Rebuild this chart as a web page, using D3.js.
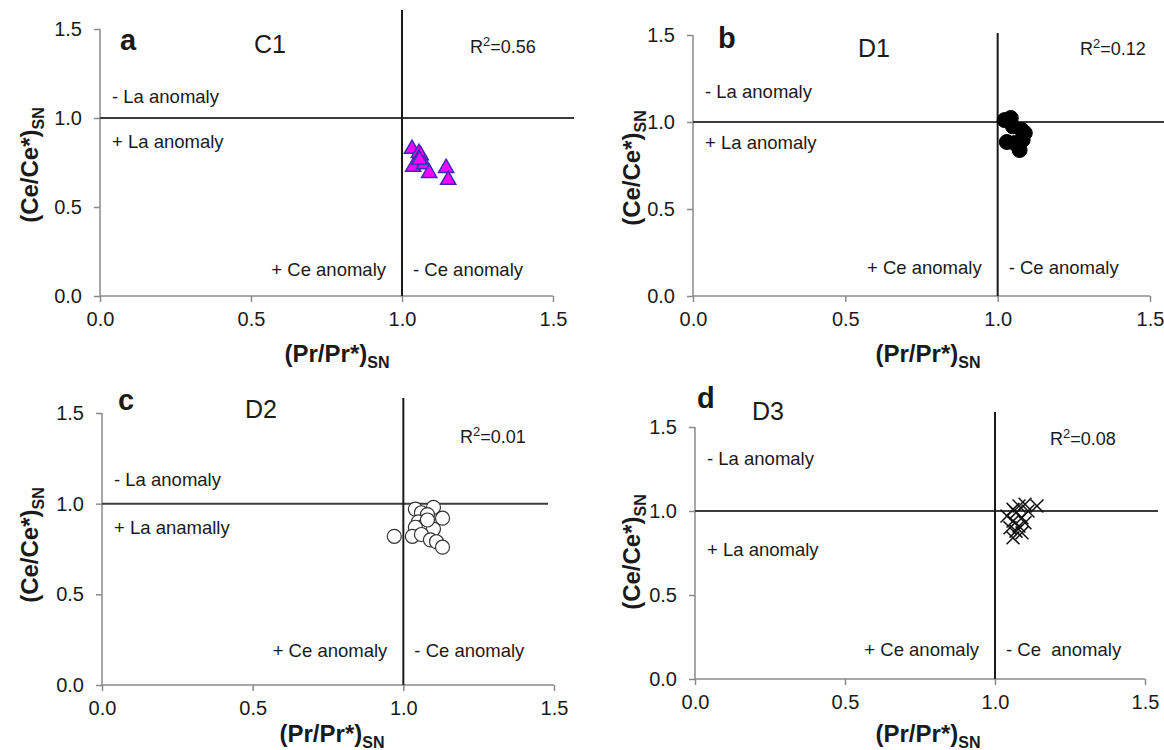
<!DOCTYPE html>
<html>
<head>
<meta charset="utf-8">
<script src="https://cdn.jsdelivr.net/npm/d3@7"></script>
<style>
  body { margin: 0; background: #fff; }
  text { font-family: "Liberation Sans", Arial, sans-serif; fill: #1a1a1a; }
</style>
</head>
<body>
<svg id="chart" width="1164" height="750"></svg>
<script>
// tick values shared by every panel
const ticks = [0, 0.5, 1.0, 1.5];
const tickLabels = ["0.0", "0.5", "1.0", "1.5"];

// C1 (triangles)
const c1Pr = [1.033, 1.056, 1.062, 1.037, 1.073, 1.090, 1.146, 1.153, 1.058];
const c1Ce = [0.826, 0.803, 0.790, 0.725, 0.740, 0.691, 0.719, 0.652, 0.765];

// D1 (black circles)
const d1Pr = [1.023, 1.043, 1.079, 1.089, 1.030, 1.056, 1.072, 1.082, 1.050];
const d1Ce = [1.011, 1.023, 0.954, 0.937, 0.885, 0.879, 0.839, 0.897, 0.975];

// D2 (open circles)
const d2Pr = [1.04, 1.06, 1.10, 1.08, 1.13, 1.05, 1.07, 1.04, 1.10, 1.03, 1.06, 1.09, 1.11, 1.13, 0.97, 1.08];
const d2Ce = [0.97, 0.95, 0.98, 0.94, 0.92, 0.90, 0.88, 0.87, 0.86, 0.82, 0.83, 0.80, 0.79, 0.76, 0.82, 0.91];

// D3 (crosses)
const d3Pr = [1.04, 1.06, 1.08, 1.10, 1.14, 1.07, 1.09, 1.06, 1.08, 1.10, 1.07, 1.06, 1.09, 1.11, 1.05];
const d3Ce = [0.97, 1.01, 1.03, 1.04, 1.03, 0.99, 0.96, 0.94, 0.91, 0.93, 0.88, 0.84, 0.87, 1.00, 0.90];

const panelLetters = ["a", "b", "c", "d"];
const groupNames = ["C1", "D1", "D2", "D3"];
const r2Values = ["0.56", "0.12", "0.01", "0.08"];
const laMinus = ["- La anomaly", "- La anomaly", "- La anomaly", "- La anomaly"];
const laPlus = ["+ La anomaly", "+ La anomaly", "+ La anamally", "+ La anomaly"];
const cePlus = ["+ Ce anomaly", "+ Ce anomaly", "+ Ce anomaly", "+ Ce anomaly"];
const ceMinus = ["- Ce anomaly", "- Ce anomaly", "- Ce anomaly", "- Ce  anomaly"];

const series = [
  { pr: c1Pr, ce: c1Ce, kind: "triangle" },
  { pr: d1Pr, ce: d1Ce, kind: "dot" },
  { pr: d2Pr, ce: d2Ce, kind: "open" },
  { pr: d3Pr, ce: d3Ce, kind: "cross" }
];

// where each panel sits on the page
const layout = [
  { x0: 100, x15: 553, y0: 296, y15: 29, hEnd: 574, vTop: 10,
    letter: [120, 50], group: [254, 53], r2: [470, 53], laM: 103, laP: 148, ce: 276,
    yTitle: [30, 165], xTitle: [337, 362] },
  { x0: 693, x15: 1150, y0: 296, y15: 35, hEnd: 1164, vTop: 33,
    letter: [718, 48], group: [858, 57], r2: [1080, 55], laM: 98, laP: 149, ce: 274,
    yTitle: [632, 168], xTitle: [928, 362] },
  { x0: 102, x15: 554, y0: 685, y15: 413, hEnd: 548, vTop: 398,
    letter: [118, 410], group: [245, 418], r2: [460, 443], laM: 486, laP: 534, ce: 657,
    yTitle: [30, 545], xTitle: [332, 742] },
  { x0: 695, x15: 1145, y0: 679, y15: 427, hEnd: 1158, vTop: 412,
    letter: [697, 408], group: [752, 420], r2: [1050, 445], laM: 465, laP: 556, ce: 656,
    yTitle: [632, 552], xTitle: [928, 742] }
];

const svg = d3.select("#chart");
const axisGrey = "#8a8a8a";

layout.forEach(function(p, i) {
  const x = d3.scaleLinear().domain([0, 1.5]).range([p.x0, p.x15]);
  const y = d3.scaleLinear().domain([0, 1.5]).range([p.y0, p.y15]);
  const g = svg.append("g");

  // axes
  const xAxis = d3.axisBottom(x).tickValues(ticks).tickFormat((d, k) => tickLabels[k]).tickSize(6).tickPadding(10);
  const yAxis = d3.axisLeft(y).tickValues(ticks).tickFormat((d, k) => tickLabels[k]).tickSize(6).tickPadding(12);
  const gx = g.append("g").attr("transform", "translate(0," + p.y0 + ")").call(xAxis);
  const gy = g.append("g").attr("transform", "translate(" + p.x0 + ",0)").call(yAxis);
  [gx, gy].forEach(function(a) {
    a.select(".domain").attr("stroke", axisGrey).attr("stroke-width", 1.5);
    a.selectAll(".tick line").attr("stroke", axisGrey).attr("stroke-width", 1.5);
    a.selectAll(".tick text").attr("font-size", 20).attr("fill", "#1a1a1a")
      .attr("font-family", '"Liberation Sans", Arial, sans-serif');
  });
  gx.select(".domain").attr("d", "M" + p.x0 + ",0H" + p.x15);
  gy.select(".domain").attr("d", "M0," + p.y0 + "V" + p.y15);

  // reference lines at 1.0
  g.append("line")
    .attr("x1", p.x0).attr("x2", p.hEnd)
    .attr("y1", y(1)).attr("y2", y(1))
    .attr("stroke", "#3c3c3c").attr("stroke-width", 2);
  g.append("line")
    .attr("x1", x(1)).attr("x2", x(1))
    .attr("y1", p.vTop).attr("y2", p.y0)
    .attr("stroke", "#1a1a1a").attr("stroke-width", 2);

  // texts
  g.append("text").attr("x", p.letter[0]).attr("y", p.letter[1])
    .attr("font-size", 29).attr("font-weight", "bold").text(panelLetters[i]);
  g.append("text").attr("x", p.group[0]).attr("y", p.group[1])
    .attr("font-size", 25).text(groupNames[i]);
  const r2 = g.append("text").attr("x", p.r2[0]).attr("y", p.r2[1]).attr("font-size", 18);
  r2.append("tspan").text("R");
  r2.append("tspan").attr("font-size", 13).attr("dy", -7).text("2");
  r2.append("tspan").attr("dy", 7).text("=" + r2Values[i]);

  g.append("text").attr("x", p.x0 + 12).attr("y", p.laM).attr("font-size", 18.5).text(laMinus[i]);
  g.append("text").attr("x", p.x0 + 12).attr("y", p.laP).attr("font-size", 18.5).text(laPlus[i]);
  g.append("text").attr("x", x(1) - 16).attr("y", p.ce).attr("font-size", 18.5)
    .attr("text-anchor", "end").text(cePlus[i]);
  g.append("text").attr("x", x(1) + 11).attr("y", p.ce).attr("font-size", 18.5)
    .style("white-space", "pre").text(ceMinus[i]);

  // axis titles
  const xt = g.append("text").attr("x", p.xTitle[0]).attr("y", p.xTitle[1])
    .attr("text-anchor", "middle").attr("font-size", 24).attr("font-weight", "bold");
  xt.append("tspan").text("(Pr/Pr*)");
  xt.append("tspan").attr("font-size", 16).attr("dy", 6).text("SN");

  const yt = g.append("text")
    .attr("transform", "translate(" + p.yTitle[0] + "," + p.yTitle[1] + ") rotate(-90)")
    .attr("text-anchor", "middle").attr("dy", "0.35em")
    .attr("font-size", 24).attr("font-weight", "bold");
  yt.append("tspan").text("(Ce/Ce*)");
  yt.append("tspan").attr("font-size", 16).attr("dy", 6).text("SN");

  // markers
  const s = series[i];
  const pts = s.pr.map((v, k) => [v, s.ce[k]]);
  if (s.kind === "triangle") {
    g.selectAll("path.pt").data(pts).enter().append("path")
      .attr("d", d3.symbol(d3.symbolTriangle, 100))
      .attr("transform", d => "translate(" + x(d[0]) + "," + y(d[1]) + ")")
      .attr("fill", "#ff00ff").attr("stroke", "#3b2bb5").attr("stroke-width", 1.5);
  } else if (s.kind === "dot") {
    g.selectAll("circle.pt").data(pts).enter().append("circle")
      .attr("cx", d => x(d[0])).attr("cy", d => y(d[1])).attr("r", 7.5)
      .attr("fill", "#000").attr("stroke", "#000");
  } else if (s.kind === "open") {
    g.selectAll("circle.pt").data(pts).enter().append("circle")
      .attr("cx", d => x(d[0])).attr("cy", d => y(d[1])).attr("r", 7)
      .attr("fill", "#fff").attr("stroke", "#333").attr("stroke-width", 1.2);
  } else {
    g.selectAll("path.pt").data(pts).enter().append("path")
      .attr("d", d3.symbol(d3.symbolX, 110))
      .attr("transform", d => "translate(" + x(d[0]) + "," + y(d[1]) + ")")
      .attr("fill", "none").attr("stroke", "#111").attr("stroke-width", 1.5);
  }
});
</script>
</body>
</html>
